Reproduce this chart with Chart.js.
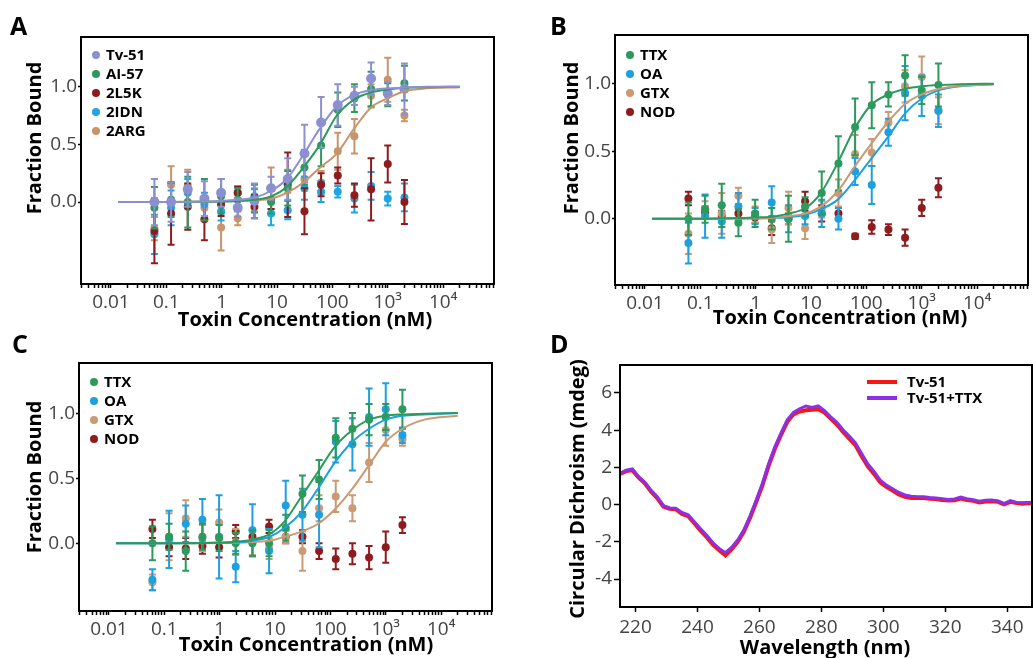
<!DOCTYPE html>
<html>
<head>
<meta charset="utf-8">
<script src="https://cdn.jsdelivr.net/npm/chart.js@4.4.1/dist/chart.umd.min.js"></script>
<style>
html, body { margin: 0; padding: 0; background: #fff; overflow: hidden; width: 1033px; height: 658px; }
body { position: relative; }
canvas { position: absolute; }
</style>
</head>
<body>
<canvas id="panel-a" width="500" height="330" style="left:0;top:0"></canvas>
<canvas id="panel-b" width="540" height="330" style="left:500px;top:0"></canvas>
<canvas id="panel-c" width="500" height="328" style="left:0;top:330px"></canvas>
<canvas id="panel-d" width="540" height="328" style="left:500px;top:330px"></canvas>
<script>
// toxin concentrations (nM), 2-fold dilution series
const conc = [0.061, 0.122, 0.244, 0.488, 0.977, 1.95, 3.91, 7.81, 15.6, 31.3, 62.5, 125, 250, 500, 1000, 2000];

// panel A
const tv51Y   = [0.0, 0.0, 0.11, 0.03, 0.08, -0.05, 0.01, 0.12, 0.2, 0.42, 0.69, 0.84, 0.92, 1.07, 0.94, 0.98];
const tv51Err = [0.2, 0.17, 0.15, 0.15, 0.12, 0.08, 0.15, 0.1, 0.18, 0.25, 0.22, 0.18, 0.08, 0.14, 0.1, 0.22];
const ai57Y   = [-0.05, 0.02, 0.0, 0.02, 0.05, 0.02, 0.03, 0.0, 0.12, 0.3, 0.49, 0.8, 0.9, 0.98, 0.93, 1.03];
const ai57Err = [0.18, 0.15, 0.22, 0.18, 0.15, 0.1, 0.12, 0.1, 0.15, 0.15, 0.18, 0.15, 0.12, 0.15, 0.1, 0.15];
const l5kY    = [-0.25, -0.1, -0.04, -0.15, -0.02, 0.08, -0.04, 0.02, 0.15, -0.08, 0.15, 0.23, 0.06, 0.11, 0.33, 0.0];
const l5kErr  = [0.28, 0.27, 0.2, 0.18, 0.1, 0.05, 0.1, 0.08, 0.28, 0.2, 0.1, 0.07, 0.1, 0.27, 0.16, 0.19];
const idnY    = [-0.28, -0.05, 0.08, -0.02, -0.08, 0.08, 0.05, -0.1, -0.07, 0.12, 0.09, 0.09, 0.03, 0.14, 0.03, 0.04];
const idnErr  = [0.17, 0.15, 0.12, 0.1, 0.08, 0.06, 0.06, 0.1, 0.08, 0.1, 0.09, 0.05, 0.12, 0.12, 0.06, 0.12];
const argY    = [-0.23, 0.15, 0.14, -0.05, -0.22, -0.14, 0.02, 0.12, 0.18, 0.2, 0.17, 0.44, 0.57, 0.92, 1.06, 0.75];
const argErr  = [0.1, 0.16, 0.14, 0.1, 0.2, 0.06, 0.1, 0.18, 0.1, 0.1, 0.1, 0.16, 0.15, 0.1, 0.19, 0.05];

// panel B
const bTtxY   = [0.0, 0.07, 0.1, -0.03, 0.04, 0.0, 0.0, 0.09, 0.19, 0.41, 0.68, 0.84, 0.92, 1.06, 0.95, 0.99];
const bTtxErr = [0.12, 0.1, 0.16, 0.1, 0.1, 0.08, 0.17, 0.07, 0.16, 0.2, 0.21, 0.17, 0.09, 0.15, 0.1, 0.16];
const bOaY    = [-0.18, 0.02, -0.02, 0.09, 0.02, 0.12, 0.0, 0.02, 0.04, 0.0, 0.35, 0.25, 0.64, 0.93, 0.91, 0.8];
const bOaErr  = [0.15, 0.16, 0.12, 0.1, 0.06, 0.12, 0.1, 0.06, 0.1, 0.08, 0.1, 0.14, 0.1, 0.2, 0.15, 0.12];
const bGtxY   = [-0.11, 0.07, 0.04, 0.17, 0.03, -0.08, 0.08, -0.07, 0.07, 0.19, 0.48, 0.49, 0.71, 0.98, 1.05, 0.8];
const bGtxErr = [0.15, 0.06, 0.15, 0.06, 0.06, 0.1, 0.12, 0.08, 0.06, 0.1, 0.14, 0.1, 0.08, 0.12, 0.15, 0.1];
const bNodY   = [0.15, 0.05, 0.02, 0.04, 0.01, -0.07, 0.0, 0.13, 0.04, 0.04, -0.13, -0.06, -0.08, -0.14, 0.08, 0.23];
const bNodErr = [0.05, 0.04, 0.04, 0.04, 0.04, 0.05, 0.04, 0.07, 0.06, 0.04, 0.02, 0.05, 0.04, 0.06, 0.06, 0.07];

// panel C
const cTtxY   = [0.0, 0.05, -0.06, 0.05, 0.04, 0.0, 0.0, 0.0, 0.12, 0.38, 0.49, 0.81, 0.88, 0.95, 0.97, 1.03];
const cTtxErr = [0.13, 0.1, 0.15, 0.1, 0.1, 0.08, 0.1, 0.1, 0.1, 0.14, 0.15, 0.15, 0.12, 0.12, 0.1, 0.15];
const cOaY    = [-0.28, 0.03, 0.15, 0.18, 0.05, -0.18, 0.1, -0.06, 0.29, 0.22, 0.22, 0.78, 0.76, 0.97, 1.03, 0.83];
const cOaErr  = [0.08, 0.22, 0.14, 0.16, 0.32, 0.12, 0.2, 0.17, 0.19, 0.2, 0.25, 0.16, 0.2, 0.22, 0.2, 0.06];
const cGtxY   = [-0.3, 0.05, 0.19, 0.04, 0.16, 0.01, 0.01, -0.04, 0.05, -0.06, 0.27, 0.36, 0.27, 0.62, 0.87, 0.8];
const cGtxErr = [0.06, 0.18, 0.14, 0.1, 0.1, 0.1, 0.1, 0.08, 0.05, 0.15, 0.1, 0.12, 0.1, 0.15, 0.12, 0.05];
const cNodY   = [0.11, -0.03, -0.04, -0.02, -0.03, 0.09, 0.05, 0.13, 0.05, 0.05, -0.06, -0.12, -0.08, -0.11, -0.03, 0.14];
const cNodErr = [0.07, 0.07, 0.08, 0.06, 0.08, 0.05, 0.05, 0.05, 0.05, 0.05, 0.06, 0.08, 0.08, 0.09, 0.12, 0.06];

// fitted binding curves, read at these concentrations
const fitX = [0.0134, 0.1, 0.5, 1, 2, 4, 8, 15, 30, 60, 120, 250, 500, 1000, 2000, 5000, 20000];
const fitTv51 = [0, 0, 0.005, 0.01, 0.02, 0.04, 0.1, 0.2, 0.41, 0.64, 0.83, 0.93, 0.97, 0.985, 0.99, 1.0, 1.0];
const fitAi57 = [0, 0, 0.003, 0.005, 0.01, 0.02, 0.05, 0.13, 0.3, 0.5, 0.75, 0.89, 0.95, 0.975, 0.99, 0.995, 1.0];
const fitArg  = [0, 0, 0.003, 0.005, 0.01, 0.015, 0.03, 0.08, 0.17, 0.3, 0.42, 0.64, 0.82, 0.9, 0.96, 0.985, 0.995];
const fitBTtx = [0, 0, 0.005, 0.01, 0.015, 0.04, 0.08, 0.19, 0.41, 0.66, 0.84, 0.92, 0.96, 0.98, 0.99, 0.995, 1.0];
const fitBGtx = [0, 0, 0.002, 0.004, 0.008, 0.02, 0.04, 0.09, 0.2, 0.38, 0.55, 0.72, 0.85, 0.92, 0.96, 0.985, 0.995];
const fitBOa  = [0, 0, 0.002, 0.003, 0.006, 0.012, 0.03, 0.07, 0.14, 0.28, 0.44, 0.61, 0.78, 0.89, 0.95, 0.98, 0.995];
const fitCTtx = [0, 0, 0.003, 0.006, 0.012, 0.03, 0.07, 0.17, 0.36, 0.55, 0.74, 0.87, 0.95, 0.98, 0.99, 0.995, 1.0];
const fitCOa  = [0, 0, 0.002, 0.004, 0.008, 0.02, 0.05, 0.12, 0.24, 0.42, 0.62, 0.78, 0.88, 0.95, 0.98, 0.99, 1.0];
const fitCGtx = [0, 0, 0.001, 0.002, 0.004, 0.01, 0.02, 0.05, 0.09, 0.15, 0.26, 0.42, 0.6, 0.78, 0.88, 0.95, 0.98];

const decadeVals = [0.01, 0.1, 1, 10, 100, 1000, 10000];
const decadeText = ['0.01', '0.1', '1', '10', '100', '10³', '10⁴'];
const fracTicks = [0, 0.5, 1];
const fracText = ['0.0', '0.5', '1.0'];

// panel D: CD spectra
const wavelength = [215, 217, 219, 221, 223, 225, 227, 229, 231, 233,
  235, 237, 239, 241, 243, 245, 247, 249, 251, 253,
  255, 257, 259, 261, 263, 265, 267, 269, 271, 273,
  275, 277, 279, 281, 283, 285, 287, 289, 291, 293,
  295, 297, 299, 301, 303, 305, 307, 309, 311, 313,
  315, 317, 319, 321, 323, 325, 327, 329, 331, 333,
  335, 337, 339, 341, 343, 345, 347, 349];
const cdTv51 = [1.65, 1.8, 1.85, 1.45, 1.15, 0.7, 0.35, -0.1, -0.22, -0.25,
  -0.5, -0.62, -1.0, -1.4, -1.75, -2.15, -2.45, -2.72, -2.4, -2.0,
  -1.45, -0.7, 0.15, 1.05, 2.1, 3.0, 3.75, 4.45, 4.85, 5.0,
  5.07, 5.1, 5.12, 4.95, 4.62, 4.3, 3.9, 3.55, 3.2, 2.6,
  2.05, 1.65, 1.2, 0.95, 0.76, 0.55, 0.42, 0.36, 0.35, 0.35,
  0.32, 0.3, 0.25, 0.22, 0.23, 0.33, 0.25, 0.2, 0.12, 0.17,
  0.18, 0.15, 0.02, 0.15, 0.08, 0.05, 0.08, 0.06];
const cdTv51Ttx = [1.68, 1.85, 1.92, 1.5, 1.2, 0.78, 0.42, -0.05, -0.18, -0.2,
  -0.42, -0.55, -0.92, -1.3, -1.65, -2.05, -2.35, -2.58, -2.3, -1.9,
  -1.35, -0.6, 0.25, 1.15, 2.2, 3.1, 3.85, 4.55, 4.95, 5.15,
  5.3, 5.22, 5.3, 5.05, 4.72, 4.42, 4.02, 3.68, 3.32, 2.75,
  2.18, 1.78, 1.32, 1.05, 0.85, 0.65, 0.52, 0.45, 0.42, 0.42,
  0.38, 0.35, 0.32, 0.28, 0.3, 0.4, 0.32, 0.26, 0.18, 0.24,
  0.25, 0.2, 0.06, 0.22, 0.12, 0.1, 0.12, 0.1];
const cdTicks = [-4, -2, 0, 2, 4, 6];
const wlTicks = [220, 240, 260, 280, 300, 320, 340];

const colors = {
  tv51: '#8c8fd1', ai57: '#2b9a5c', l5k: '#8e1b1e', idn: '#1ea5e2', arg: '#c8946c',
  ttx: '#2b9a5c', oa: '#1ea0df', gtx: '#c99a74', nod: '#8e1b1e',
  red: '#f21818', purple: '#8d2fe6'
};
const FONT = '"Open Sans", sans-serif';
const tickFont = { family: FONT, size: 19 };

function pts(xs, ys) {
  return xs.map((x, i) => ({ x: x, y: ys[i] }));
}

function scatterSet(label, color, ys, err, r) {
  return {
    label: label, data: pts(conc, ys), err: err,
    backgroundColor: color, borderColor: color,
    pointRadius: r || 4, pointBorderWidth: 0, showLine: false, order: 1
  };
}

function fitSet(color, ys) {
  return {
    data: pts(fitX, ys), borderColor: color, backgroundColor: color, borderWidth: 2,
    pointRadius: 0, showLine: true, cubicInterpolationMode: 'monotone', fill: false, order: 0
  };
}

// frame, error bars, titles, legend
function decor(o) {
  return {
    id: 'decor',
    beforeDatasetDraw(chart, args) {
      const ds = chart.data.datasets[args.index];
      if (!ds.err) return;
      const ctx = chart.ctx, xs = chart.scales.x, ys = chart.scales.y;
      ctx.save();
      ctx.strokeStyle = ds.borderColor;
      ctx.lineWidth = 2;
      ds.data.forEach((p, i) => {
        const px = xs.getPixelForValue(p.x);
        const top = ys.getPixelForValue(p.y + ds.err[i]);
        const bot = ys.getPixelForValue(p.y - ds.err[i]);
        ctx.beginPath();
        ctx.moveTo(px, top); ctx.lineTo(px, bot);
        ctx.moveTo(px - 3.5, top); ctx.lineTo(px + 3.5, top);
        ctx.moveTo(px - 3.5, bot); ctx.lineTo(px + 3.5, bot);
        ctx.stroke();
      });
      ctx.restore();
    },
    afterDraw(chart) {
      const ctx = chart.ctx, a = chart.chartArea;
      ctx.save();
      ctx.strokeStyle = '#000';
      ctx.lineWidth = 2;
      ctx.strokeRect(a.left, a.top, a.right - a.left, a.bottom - a.top);

      ctx.fillStyle = '#000';
      ctx.font = 'bold 25px ' + FONT;
      ctx.textAlign = 'left';
      ctx.textBaseline = 'alphabetic';
      ctx.fillText(o.letter[0], o.letter[1], o.letter[2]);

      ctx.font = 'bold 20px ' + FONT;
      ctx.textAlign = 'center';
      ctx.textBaseline = 'middle';
      ctx.fillText(o.xTitle[0], o.xTitle[1], o.xTitle[2]);
      ctx.save();
      ctx.translate(o.yTitle[1], o.yTitle[2]);
      ctx.rotate(-Math.PI / 2);
      ctx.fillText(o.yTitle[0], 0, 0);
      ctx.restore();

      // legend
      ctx.font = 'bold 15px ' + FONT;
      ctx.textAlign = 'left';
      let row = 0;
      chart.data.datasets.forEach(ds => {
        if (!ds.label) return;
        const y = a.top + o.legend.y + row * o.legend.step;
        if (o.legend.line) {
          ctx.strokeStyle = ds.borderColor;
          ctx.lineWidth = 4;
          ctx.beginPath();
          ctx.moveTo(a.left + o.legend.x, y);
          ctx.lineTo(a.left + o.legend.x + 30, y);
          ctx.stroke();
        } else {
          ctx.fillStyle = ds.backgroundColor;
          ctx.beginPath();
          ctx.arc(a.left + o.legend.x, y, 4, 0, Math.PI * 2);
          ctx.fill();
        }
        ctx.fillStyle = '#000';
        ctx.fillText(ds.label, a.left + o.legend.tx, y + 1);
        row++;
      });
      ctx.restore();
    }
  };
}

function logTicks(scale) {
  const out = [];
  [0.001].concat(decadeVals).forEach(d => {
    for (let m = 1; m <= 9; m++) {
      const v = m === 1 ? d : m * d;
      if (v >= scale.min && v <= scale.max) out.push({ value: v });
    }
  });
  scale.ticks = out;
}

function doseChart(id, cfg) {
  return new Chart(document.getElementById(id), {
    type: 'scatter',
    data: { datasets: cfg.datasets },
    options: {
      responsive: false,
      animation: false,
      layout: { padding: cfg.pad },
      plugins: { legend: { display: false }, tooltip: { enabled: false } },
      scales: {
        x: {
          type: 'logarithmic', min: 0.00288, max: 83000,
          afterBuildTicks: logTicks,
          afterFit: s => { s.height = cfg.xH; },
          grid: { drawOnChartArea: false, tickLength: 4, tickColor: '#000', tickWidth: 1.5 },
          border: { color: '#000', width: 2 },
          ticks: {
            autoSkip: false, maxRotation: 0, padding: 3, color: '#444', font: tickFont,
            callback: v => { const i = decadeVals.indexOf(v); return i < 0 ? '' : decadeText[i]; }
          }
        },
        y: {
          min: cfg.yMin, max: cfg.yMax,
          afterBuildTicks: s => { s.ticks = fracTicks.map(v => ({ value: v })); },
          afterFit: s => { s.width = cfg.yW; },
          grid: { drawOnChartArea: false, tickLength: 3, tickColor: '#000', tickWidth: 1.5 },
          border: { color: '#000', width: 2 },
          ticks: { padding: 1, color: '#444', font: tickFont, callback: v => fracText[fracTicks.indexOf(v)] }
        }
      }
    },
    plugins: [decor(cfg.decor)]
  });
}

doseChart('panel-a', {
  pad: { left: 0, top: 37, right: 6, bottom: 0 }, xH: 46, yW: 81, yMin: -0.71, yMax: 1.43,
  datasets: [
    fitSet(colors.tv51, fitTv51), fitSet(colors.ai57, fitAi57), fitSet(colors.arg, fitArg),
    scatterSet('Tv-51', colors.tv51, tv51Y, tv51Err, 5),
    scatterSet('AI-57', colors.ai57, ai57Y, ai57Err),
    scatterSet('2L5K', colors.l5k, l5kY, l5kErr),
    scatterSet('2IDN', colors.idn, idnY, idnErr),
    scatterSet('2ARG', colors.arg, argY, argErr)
  ],
  decor: {
    letter: ['A', 10, 35], xTitle: ['Toxin Concentration (nM)', 305, 320], yTitle: ['Fraction Bound', 35, 138],
    legend: { x: 15, tx: 25, y: 18, step: 19 }
  }
});

doseChart('panel-b', {
  pad: { left: 0, top: 35, right: 12, bottom: 0 }, xH: 45, yW: 115, yMin: -0.49, yMax: 1.36,
  datasets: [
    fitSet(colors.ttx, fitBTtx), fitSet(colors.gtx, fitBGtx), fitSet(colors.oa, fitBOa),
    scatterSet('TTX', colors.ttx, bTtxY, bTtxErr),
    scatterSet('OA', colors.oa, bOaY, bOaErr),
    scatterSet('GTX', colors.gtx, bGtxY, bGtxErr),
    scatterSet('NOD', colors.nod, bNodY, bNodErr)
  ],
  decor: {
    letter: ['B', 50, 35], xTitle: ['Toxin Concentration (nM)', 340, 318], yTitle: ['Fraction Bound', 72, 138],
    legend: { x: 15, tx: 25, y: 20, step: 19 }
  }
});

doseChart('panel-c', {
  pad: { left: 0, top: 33, right: 8, bottom: 0 }, xH: 47, yW: 79, yMin: -0.52, yMax: 1.385,
  datasets: [
    fitSet(colors.ttx, fitCTtx), fitSet(colors.oa, fitCOa), fitSet(colors.gtx, fitCGtx),
    scatterSet('TTX', colors.ttx, cTtxY, cTtxErr),
    scatterSet('OA', colors.oa, cOaY, cOaErr),
    scatterSet('GTX', colors.gtx, cGtxY, cGtxErr),
    scatterSet('NOD', colors.nod, cNodY, cNodErr)
  ],
  decor: {
    letter: ['C', 12, 23], xTitle: ['Toxin Concentration (nM)', 306, 315], yTitle: ['Fraction Bound', 35, 147],
    legend: { x: 15, tx: 25, y: 19, step: 19 }
  }
});

new Chart(document.getElementById('panel-d'), {
  type: 'line',
  data: {
    datasets: [
      { label: 'Tv-51', data: pts(wavelength, cdTv51), borderColor: colors.red, backgroundColor: colors.red,
        borderWidth: 4, pointRadius: 0, tension: 0, order: 1 },
      { label: 'Tv-51+TTX', data: pts(wavelength, cdTv51Ttx), borderColor: colors.purple, backgroundColor: colors.purple,
        borderWidth: 3, pointRadius: 0, tension: 0, order: 0 }
    ]
  },
  options: {
    responsive: false,
    animation: false,
    layout: { padding: { left: 0, top: 35, right: 8, bottom: 0 } },
    plugins: { legend: { display: false }, tooltip: { enabled: false } },
    scales: {
      x: {
        type: 'linear', min: 215, max: 348,
        afterBuildTicks: s => { s.ticks = wlTicks.map(v => ({ value: v })); },
        afterFit: s => { s.height = 51; },
        grid: { drawOnChartArea: false, tickLength: 5, tickColor: '#000', tickWidth: 1.5 },
        border: { color: '#000', width: 2 },
        ticks: { autoSkip: false, maxRotation: 0, padding: 4, color: '#444', font: tickFont }
      },
      y: {
        min: -5.5, max: 7.5,
        afterBuildTicks: s => { s.ticks = cdTicks.map(v => ({ value: v })); },
        afterFit: s => { s.width = 120; },
        grid: { drawOnChartArea: false, tickLength: 6, tickColor: '#000', tickWidth: 1.5 },
        border: { color: '#000', width: 2 },
        ticks: { padding: 2, color: '#444', font: tickFont, callback: v => String(v) }
      }
    }
  },
  plugins: [decor({
    letter: ['D', 50, 23], xTitle: ['Wavelength (nm)', 325, 318], yTitle: ['Circular Dichroism (mdeg)', 78, 159],
    legend: { x: 247, tx: 287, y: 17, step: 16, line: true }
  })]
});
</script>
</body>
</html>
